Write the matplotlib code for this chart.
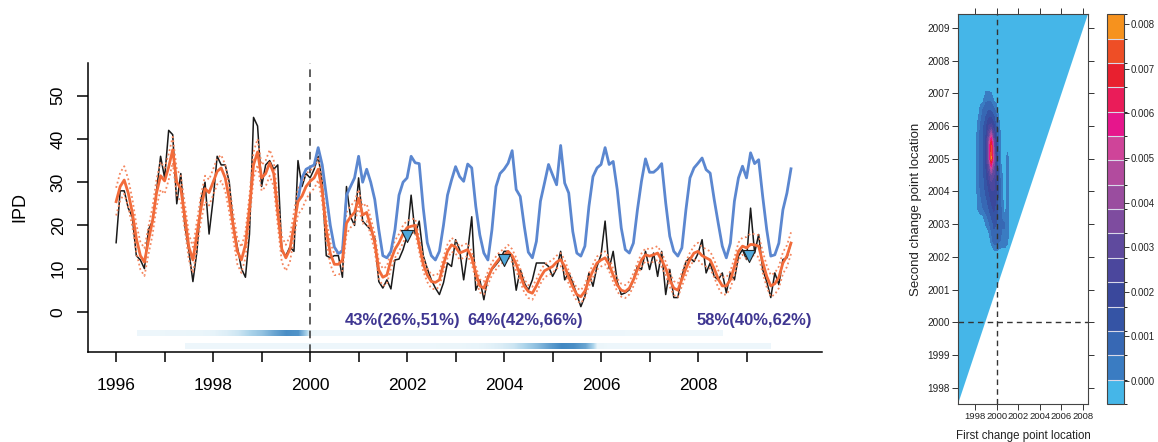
import numpy as np
import matplotlib
matplotlib.use("Agg")
import matplotlib.pyplot as plt
from matplotlib.colors import ListedColormap, BoundaryNorm, LinearSegmentedColormap
from matplotlib.patches import Polygon
import matplotlib as mpl

plt.rcParams['font.family'] = ['Liberation Sans', 'DejaVu Sans']

# ---------------- data: monthly series from Jan 1996 ----------------
start_year = 1996.0
observed = [16, 28, 28, 24, 22, 13, 12, 10, 19, 21, 28, 36,
            31, 42, 41, 25, 32, 20, 14, 7, 14, 26, 30, 18,
            26, 36, 34, 34, 30, 20, 15, 10, 8, 18, 45, 43,
            29, 34, 35, 33, 34, 14, 13, 15, 14, 35, 29, 32,
            31, 33, 36, 30, 13, 12.5, 13, 13, 8, 29, 22, 20,
            31, 21, 20, 19, 17, 7, 5.5, 7.4, 5.3, 12, 12.2, 14.4,
            17.5, 27, 18, 21, 13, 10, 7.4, 5.5, 4, 6.7, 11.3, 10.5,
            16.7, 14.4, 7.4, 14, 22, 5, 7.4, 2.8, 8.2, 9.8, 10.9, 12.1,
            14, 14, 12.5, 5, 9.8, 6.7, 5, 7.4, 11.3, 11.3, 11.3, 10.5,
            8.2, 10, 14, 7.4, 9, 6.7, 4, 1.2, 3.6, 9, 5.9, 10.5,
            13.2, 21, 10, 14, 7, 4, 4.4, 5.1, 7.4, 10.5, 9.8, 14,
            9.8, 13.6, 8.2, 14, 4, 9.8, 3.3, 3.3, 8.2, 11.6, 12.5, 11.6,
            13.5, 16.7, 9, 11.3, 8.2, 7.4, 9, 4.4, 9, 7.4, 12.9, 14.4,
            12.1, 24, 13.6, 17.9, 9.8, 7, 3.3, 9, 6.3, 12.1, 12.5, 16]

fitted = [25.5, 29, 30.5, 27.5, 23, 17, 13, 11.5, 16.5, 21, 27.5, 31.5,
          30.3, 33.5, 37.5, 30, 28.5, 22, 15, 12, 18, 24, 28.5, 27.6,
          30, 32.5, 33.3, 31, 26, 19.8, 14, 12, 15.5, 24, 34, 37,
          31, 32, 34.5, 32, 23, 14.5, 12.5, 14.5, 20, 25.5, 26.8, 29,
          30.2, 31, 33, 28, 19, 13.5, 11, 11, 12, 20.5, 22, 23,
          26.3, 22.4, 23, 19.7, 16, 9.7, 8, 8.5, 12, 14.5, 16, 18,
          19.5, 19.8, 20, 15.5, 11, 8.5, 7, 6.8, 7.4, 11, 14, 15.5,
          15, 13.6, 14, 14.4, 12.5, 9, 6, 5.5, 7.8, 10, 11.3, 12.5,
          13, 14, 13, 11, 8.5, 6, 4.7, 4.3, 6, 8, 9.5, 10,
          10.5, 11.5, 12.1, 10.5, 8, 5.8, 4, 3.5, 4.8, 7.4, 9.5, 11.3,
          12, 12.5, 10.9, 8.5, 6.2, 5, 4.7, 5.5, 7.4, 9.8, 12, 13.2,
          12.9, 13.2, 13.6, 12, 10, 7.4, 5.5, 5, 7.5, 10, 12.1, 13.6,
          14, 13, 12.5, 12, 10, 7.6, 6, 6, 7.4, 10.5, 14, 15.2,
          14.8, 15.6, 15.5, 15.2, 11.5, 8.2, 6, 6.5, 8, 11.3, 12.9, 15.9]

# half width of the dotted band, one value per year 1996..2009
band_halfwidth = [3.2, 3.0, 3.0, 3.0, 2.5, 2.0, 1.6, 1.5, 1.5, 1.5, 1.5, 1.6, 2.0, 2.5]

counterfactual_start = 45   # month index where the blue series begins
counterfactual = [26, 31, 33, 33.5, 34, 38, 34, 27, 20, 15, 13.5, 14,
                  27, 29, 31, 36, 30, 33, 30, 26, 19, 13, 12.5, 14,
                  19, 27, 30, 31, 36, 34.5, 34.3, 24, 16, 13, 12, 14,
                  20, 27, 30.5, 33.6, 31.3, 30.2, 34.2, 33.3, 24.4, 17.8, 13.6, 12,
                  19, 29, 32, 33, 34.4, 37.3, 28.3, 26.7, 19.8, 13.8, 12.5, 16.3,
                  25.6, 29.8, 34.1, 31.7, 29.4, 38.5, 29.8, 27.5, 18.6, 13.6, 12.9, 15.2,
                  24.4, 31.3, 33.3, 34.1, 38, 34.1, 34.8, 28.3, 19.4, 14.4, 13.6, 15.9,
                  23.6, 30.2, 35.4, 32.3, 32.3, 33.1, 34.3, 25.2, 17.5, 14, 12.9, 14.8,
                  23.6, 31, 33.3, 34.4, 35.6, 32.9, 32.1, 26, 20.5, 15.2, 12.5, 15.9,
                  25.6, 31, 33.7, 31, 36.8, 34.3, 35.2, 26.7, 19, 12.9, 13.2, 15.9,
                  23.6, 27.5, 33.1]

intervention_year = 2000
marker_x = [2002.0, 2004.0, 2009.05]
marker_y = [17.5, 12.0, 13.0]

pct_labels = ["43%(26%,51%)", "64%(42%,66%)", "58%(40%,62%)"]
pct_label_x = [2001.9, 2004.44, 2009.15]
pct_label_y = -1.9

# posterior of the change point locations (strips), quarterly values
cp1_range = (1996.42, 2008.5)
cp1_prob = [0.05, 0.05, 0.06, 0.06, 0.07, 0.07, 0.09, 0.12, 0.18, 0.30, 0.45, 0.70,
            0.90, 0.85, 0.06, 0.05, 0.05, 0.05, 0.05, 0.05, 0.05, 0.05, 0.05, 0.05,
            0.05, 0.05, 0.05, 0.05, 0.05, 0.05, 0.05, 0.05, 0.05, 0.05, 0.05, 0.05,
            0.05, 0.05, 0.05, 0.05, 0.05, 0.04, 0.04, 0.04, 0.04, 0.04, 0.04, 0.04, 0.04]
cp2_range = (1997.42, 2009.5)
cp2_prob = [0.05, 0.05, 0.05, 0.05, 0.05, 0.05, 0.05, 0.05, 0.05, 0.05, 0.05, 0.05,
            0.05, 0.05, 0.05, 0.05, 0.05, 0.05, 0.05, 0.05, 0.05, 0.06, 0.06, 0.07,
            0.08, 0.10, 0.13, 0.18, 0.30, 0.50, 0.75, 0.95, 0.90, 0.70, 0.07, 0.05,
            0.05, 0.05, 0.05, 0.05, 0.05, 0.05, 0.05, 0.05, 0.05, 0.05, 0.05, 0.05, 0.05]

# joint posterior density (units of 0.001); negative = outside support
dens_x = [1998.0, 1998.25, 1998.5, 1998.75, 1999.0, 1999.25, 1999.5, 1999.75,
          2000.0, 2000.25, 2000.5, 2000.75, 2001.0, 2001.25]
dens_y = [2001.5, 2002.0, 2002.5, 2003.0, 2003.5, 2004.0, 2004.5, 2005.0,
          2005.5, 2006.0, 2006.5, 2007.0, 2007.5]
Z = -0.6
dens = [
    [Z, Z, Z, Z, Z, Z, Z, Z, Z, Z, Z, Z, Z, Z],
    [Z, Z, Z, Z, Z, Z, Z, Z, Z, Z, Z, Z, Z, Z],
    [Z, Z, Z, Z, Z, Z, 0.2, 0.9, 1.0, 0.6, 0.5, 0.5, 0.2, Z],
    [Z, Z, Z, Z, 0.1, 0.4, 0.8, 1.2, 1.1, 0.6, 0.6, 0.6, 0.3, Z],
    [Z, 0.1, 0.4, 0.6, 0.8, 1.1, 1.5, 1.8, 1.4, 0.7, 0.5, Z, 0.4, Z],
    [Z, 0.3, 0.6, 0.9, 1.2, 1.6, 2.1, 2.2, 1.6, 0.8, 0.3, Z, 0.5, Z],
    [Z, 0.4, 0.7, 1.0, 1.5, 2.3, 3.2, 2.8, 1.7, 0.7, 0.1, Z, 0.5, Z],
    [Z, 0.4, 0.7, 1.1, 1.8, 3.5, 7.8, 3.8, 1.6, 0.5, Z, Z, 0.4, Z],
    [Z, 0.4, 0.7, 1.1, 1.8, 3.6, 7.0, 3.2, 1.4, 0.4, Z, Z, Z, Z],
    [Z, 0.2, 0.6, 1.0, 1.4, 2.2, 2.4, 1.8, 0.9, 0.2, Z, Z, Z, Z],
    [Z, Z, 0.3, 0.6, 0.9, 1.1, 1.0, 0.7, 0.3, Z, Z, Z, Z, Z],
    [Z, Z, Z, Z, 0.1, 0.1, 0.05, Z, Z, Z, Z, Z, Z, Z],
    [Z, Z, Z, Z, Z, Z, Z, Z, Z, Z, Z, Z, Z, Z],
]
level_bounds = list(np.linspace(-0.52, 8.23, 17))
level_colors = ['#45B6E8', '#3A7CC2', '#3768B4', '#3554A5', '#3A489C', '#4B479D',
                '#5F4A9E', '#7E4C9F', '#9A4D9F', '#B24B9E', '#CF4499', '#E6168C',
                '#EA1C59', '#E8202F', '#EE4E26', '#F6921E']
cbar_ticks = [0, 1, 2, 3, 4, 5, 6, 7, 8]

# ---------------- figure ----------------
fig = plt.figure(figsize=(11.58, 4.42), dpi=100)
ax = fig.add_axes([0.076, 0.2036, 0.634, 0.654])

n = len(observed)
t = start_year + np.arange(n) / 12.0
fitted_a = np.array(fitted)
hw = np.array([band_halfwidth[i // 12] for i in range(n)])
tc = t[counterfactual_start:counterfactual_start + len(counterfactual)]

ax.plot(t, observed, color='#1a1a1a', lw=1.1, zorder=3)
ax.plot(t, fitted_a + hw, color='#F4865E', lw=1.3, ls=(0, (1, 1.5)), zorder=4)
ax.plot(t, fitted_a - hw, color='#F4865E', lw=1.3, ls=(0, (1, 1.5)), zorder=4)
ax.plot(tc, counterfactual, color='#5B87D0', lw=2.0, zorder=5)
ax.plot(t, fitted_a, color='#F26B3A', lw=2.0, zorder=6)
ax.scatter(marker_x, marker_y, marker='v', s=75, facecolor='#4FA8DA',
           edgecolor='#222222', linewidth=0.8, zorder=7)

ax.axvline(intervention_year, color='#333333', lw=1.1, ls=(0, (5, 4)), zorder=2)

strip_cmap = LinearSegmentedColormap.from_list(
    'strip', [(0.0, '#F6FBFD'), (0.08, '#E8F4FA'), (0.3, '#AAD3EA'), (1.0, '#3A83C0')])
ax.imshow(np.array([cp1_prob]), extent=[cp1_range[0], cp1_range[1], -5.6, -4.3],
          aspect='auto', cmap=strip_cmap, vmin=0, vmax=1, interpolation='bilinear', zorder=1)
ax.imshow(np.array([cp2_prob]), extent=[cp2_range[0], cp2_range[1], -8.6, -7.3],
          aspect='auto', cmap=strip_cmap, vmin=0, vmax=1, interpolation='bilinear', zorder=1)

for lab, lx in zip(pct_labels, pct_label_x):
    ax.text(lx, pct_label_y, lab, ha='center', va='center', fontsize=12,
            fontweight='bold', color='#3F3691', zorder=8)

ax.set_xlim(1995.42, 2010.56)
ax.set_ylim(-9.3, 57.6)
years = list(range(1996, 2010))
ax.set_xticks(years)
ax.set_xticklabels([str(y) if y % 2 == 0 else '' for y in years], fontsize=12.5)
ax.set_yticks([0, 10, 20, 30, 40, 50])
ax.set_yticklabels(['0', '10', '20', '30', '40', '50'], rotation=90, va='center', fontsize=12.5)
ax.tick_params(axis='x', length=7, width=1.1, pad=12)
ax.tick_params(axis='y', length=8, width=1.1, pad=8)
for s in ['top', 'right']:
    ax.spines[s].set_visible(False)
for s in ['left', 'bottom']:
    ax.spines[s].set_linewidth(1.1)
ax.set_ylabel('IPD', fontsize=13, labelpad=16)

# ---------------- heatmap ----------------
hx = fig.add_axes([0.8273, 0.086, 0.1123, 0.882])
xl = (cp1_range[0], cp1_range[1] - 0.02)
yl = (cp2_range[0] + 0.08, cp2_range[1] - 0.08)
hx.set_xlim(*xl)
hx.set_ylim(*yl)
tri = Polygon([(xl[0], yl[0]), (xl[0], yl[1]), (xl[1], yl[1])], closed=True,
              facecolor=level_colors[0], edgecolor='none', zorder=1)
hx.add_patch(tri)
cmap = ListedColormap(level_colors)
norm = BoundaryNorm(level_bounds, cmap.N)
cs = hx.contourf(dens_x, dens_y, np.array(dens), levels=level_bounds[1:],
                 colors=level_colors[1:], zorder=2)
cs.set_clip_path(tri)
hx.axvline(intervention_year, color='#333333', lw=1.0, ls=(0, (4, 3)), zorder=3)
hx.axhline(intervention_year, color='#333333', lw=1.0, ls=(0, (4, 3)), zorder=3)
hx.set_xticks(range(1998, 2009, 2))
hx.set_yticks(range(1998, 2010))
hx.tick_params(axis='y', labelsize=7.2, length=4, width=0.7, colors='#333333',
               labelcolor='#222222', pad=2, right=True, labelright=False)
hx.tick_params(axis='x', labelsize=6.8, length=4, width=0.7, colors='#333333',
               labelcolor='#222222', pad=2, top=True, labeltop=False)
for s in hx.spines.values():
    s.set_linewidth(0.8)
    s.set_color('#444444')
hx.set_xlabel('First change point location', fontsize=8.3, labelpad=6, color='#222222')
hx.set_ylabel('Second change point location', fontsize=9.5, labelpad=4, color='#222222')

cax = fig.add_axes([0.9560, 0.086, 0.0147, 0.882])
cb = mpl.colorbar.ColorbarBase(cax, cmap=cmap, norm=norm, boundaries=level_bounds,
                               ticks=cbar_ticks, drawedges=True)
cb.dividers.set_color('#D8D8E8')
cb.dividers.set_linewidth(0.8)
cb.outline.set_linewidth(0.8)
cb.outline.set_edgecolor('#444444')
cax.set_yticklabels(['%.3f' % (v / 1000) for v in cbar_ticks])
cax.tick_params(labelsize=6.9, length=3.5, width=0.7, colors='#333333', labelcolor='#222222', pad=1.5)

fig.savefig('out.png', dpi=100)
